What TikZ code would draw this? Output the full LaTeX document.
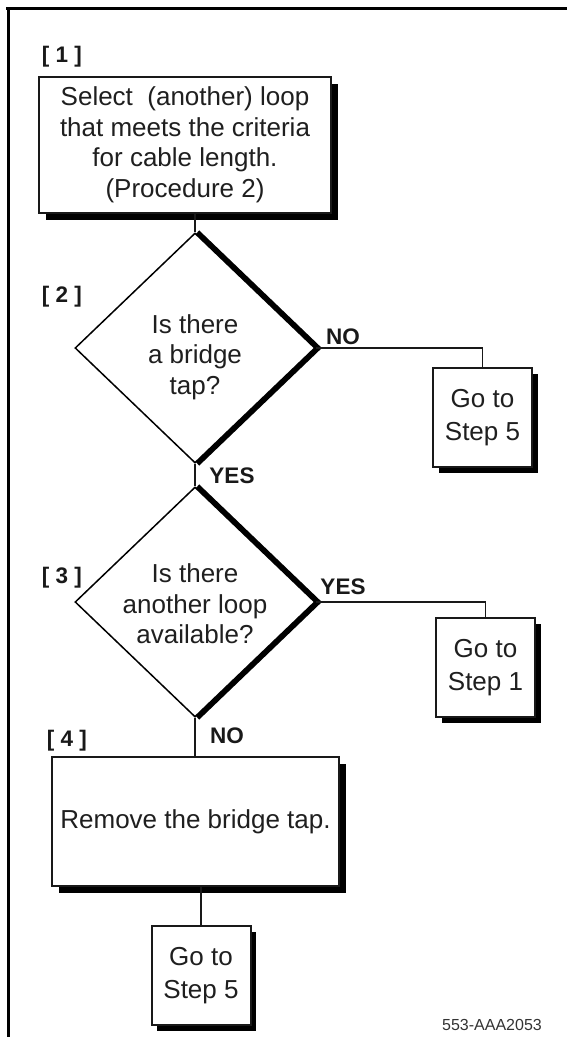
\documentclass[tikz,border=0pt]{standalone}
\usepackage{fontspec}
\setmainfont{Liberation Sans}
\usetikzlibrary{shapes.geometric,shadows,backgrounds}
\begin{document}
\begin{tikzpicture}[x=1pt,y=-1pt,
  txt/.style={text=black!88, font=\fontsize{26}{30.5}\selectfont, align=center, inner sep=0pt},
  boxbase/.style={draw=black!90, line width=2pt, fill=white, inner sep=0pt, txt},
  bigbox/.style={boxbase, drop shadow={shadow xshift=7pt, shadow yshift=-7pt, fill=black, opacity=1}},
  gobox/.style={boxbase, minimum width=99pt, minimum height=99pt, font=\fontsize{26}{33}\selectfont,
     drop shadow={shadow xshift=5.5pt, shadow yshift=-5.5pt, fill=black, opacity=1}},
  dia/.style={diamond, draw=black, line width=1.5pt, fill=white, inner sep=0pt,
     minimum width=240pt, minimum height=230pt},
  diashade/.style={line width=5pt, line join=miter, black},
  conn/.style={draw=black!90, line width=1.6pt},
  lbl/.style={font=\fontsize{22.5}{22.5}\selectfont\bfseries, text=black!90, inner sep=0pt},
  tag/.style={font=\fontsize{16}{16}\selectfont, text=black!80, inner sep=0pt}]
\useasboundingbox (0,0) rectangle (567,1057);
% frame
\draw[line width=3pt] (6,8.5) -- (567,8.5);
\draw[line width=3pt] (8.5,8.5) -- (8.5,1037);

% step 1
\node[lbl] (l1) at (62,57) {[ 1 ]};
\node[bigbox, minimum width=292pt, minimum height=136pt] (b1) at (185,145)
  {Select\ \ (another) loop\\that meets the criteria\\for cable length.\\(Procedure 2)};

% step 2
\node[lbl] (l2) at (62,297) {[ 2 ]};
\node[dia] (d2) at (195,348) {};
\node[txt] (t2) at (195,357) {Is there\\a bridge\\tap?};

% step 3
\node[lbl] (l3) at (62,578) {[ 3 ]};
\node[dia] (d3) at (195,602) {};
\node[txt] (t3) at (195,604) {Is there\\another loop\\available?};

% step 4
\node[lbl] (l4) at (67,741) {[ 4 ]};
\node[bigbox, minimum width=287pt, minimum height=129pt] (b4) at (195.5,821.5)
  {Remove the bridge tap.};

% go-to boxes
\node[gobox] (g5a) at (482.5,417.5) {Go to\\Step 5};
\node[gobox] (g1) at (485.5,667.5) {Go to\\Step 1};
\node[gobox] (g5b) at (201,975.5) {Go to\\Step 5};

% diamond shading
\begin{scope}[on background layer]
\draw[diashade] ([xshift=2.5pt]d2.north) -- ([xshift=2.5pt]d2.east) -- ([xshift=2.5pt]d2.south);
\draw[diashade] ([xshift=2.5pt]d3.north) -- ([xshift=2.5pt]d3.east) -- ([xshift=2.5pt]d3.south);
\end{scope}

% connectors
\draw[conn] (b1.south -| d2.north) -- (d2.north);
\draw[conn] (d2.south) -- (d3.north);
\draw[conn] (d2.east) -| (g5a.north);
\draw[conn] (d3.east) -| (g1.north);
\draw[conn] (d3.south) -- (d3.south |- b4.north);
\draw[conn] (b4.south -| g5b.north) -- (g5b.north);

% connector labels
\node[lbl] (no1) at (343,337) {NO};
\node[lbl] (yes1) at (232,476) {YES};
\node[lbl] (yes2) at (343,587) {YES};
\node[lbl] (no2) at (227,736) {NO};

\node[tag] (id) at (492,1025) {553-AAA2053};
\end{tikzpicture}
\end{document}
